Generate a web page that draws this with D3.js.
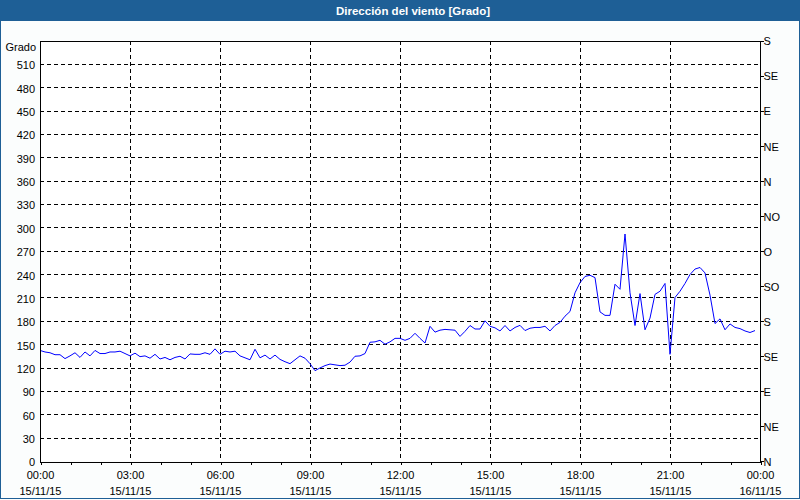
<!DOCTYPE html>
<html>
<head>
<meta charset="utf-8">
<script src="https://cdn.jsdelivr.net/npm/d3@7"></script>
<style>
  html, body { margin: 0; padding: 0; background: #fff; }
  svg { display: block; }
  text { font-family: "Liberation Sans", Arial, sans-serif; font-size: 11px; fill: #000; }
</style>
</head>
<body>
<svg id="chart" width="800" height="500"></svg>
<script>
// ---- DATA ----
const title = "Dirección del viento [Grado]";
const yLabel = "Grado";
const startTime = "2015-11-15T00:00:00";
const endTime = "2015-11-16T00:00:00";
const sampleMinutes = 10;
// wind direction, degrees, one reading every 10 minutes from 00:00
const direction = [
  142, 140, 139, 136.5, 136.5, 131.5, 135, 139, 133, 140,
  135, 142, 138, 138, 140, 140, 141, 138, 135, 138.5,
  134, 135, 132, 137, 131, 133, 130, 133, 134.5, 131,
  137.5, 137, 137, 139, 137, 144, 137, 141, 140, 141,
  135, 132.5, 130, 143.5, 132.5, 136, 131, 136, 130.5, 127.5,
  125, 130, 135, 132, 125, 116, 119.5, 122.5, 124.5, 123.5,
  122.5, 123, 127, 134.5, 135, 138, 152.5, 153, 155, 150,
  153, 157.5, 157.5, 155, 157.5, 164, 157.5, 151.5, 173, 165.5,
  168, 169, 168.5, 168, 160, 166.5, 174, 169.5, 169.5, 180,
  173, 171, 167, 174, 167, 171.5, 174.2, 167.5, 170.5, 171.5,
  171.5, 173, 167, 174, 178, 186, 192, 216, 229, 237,
  238.5, 235.5, 191.5, 187, 187, 227, 220.5, 291.5, 216, 174,
  215, 168.5, 183.5, 214, 218, 228, 137, 210, 218, 228,
  239.5, 246.5, 248.5, 241.5, 213, 176.5, 182.5, 168.5, 176, 171.5,
  170, 167, 165, 167.5
];
const leftTicks = [0, 30, 60, 90, 120, 150, 180, 210, 240, 270, 300, 330, 360, 390, 420, 450, 480, 510];
const rightTickValues = [0, 45, 90, 135, 180, 225, 270, 315, 360, 405, 450, 495, 540];
const rightTickLabels = ["N", "NE", "E", "SE", "S", "SO", "O", "NO", "N", "NE", "E", "SE", "S"];
const xMajorTimes = ["2015-11-15T00:00", "2015-11-15T03:00", "2015-11-15T06:00", "2015-11-15T09:00",
  "2015-11-15T12:00", "2015-11-15T15:00", "2015-11-15T18:00", "2015-11-15T21:00", "2015-11-16T00:00"];
const xTimeLabels = ["00:00", "03:00", "06:00", "09:00", "12:00", "15:00", "18:00", "21:00", "00:00"];
const xDateLabels = ["15/11/15", "15/11/15", "15/11/15", "15/11/15", "15/11/15", "15/11/15", "15/11/15", "15/11/15", "16/11/15"];
const yMax = 540;

// ---- LAYOUT ----
const W = 800, H = 500;
const m = { left: 40, right: 760, top: 40.5, bottom: 461 };
const barColor = "#1e5f96";

const svg = d3.select("#chart");
const parse = d3.isoParse;
const t0 = parse(startTime), t1 = parse(endTime);

const x = d3.scaleTime().domain([t0, t1]).range([m.left, m.right]);
const y = d3.scaleLinear().domain([0, yMax]).range([m.bottom, m.top]);

// background
svg.append("rect").attr("x", 0).attr("y", 0).attr("width", W).attr("height", H).attr("fill", "#fbfdfd");

// title bar
svg.append("rect").attr("x", 0).attr("y", 0).attr("width", W).attr("height", 21).attr("fill", barColor);
svg.append("text").attr("x", 413).attr("y", 14.5).attr("text-anchor", "middle")
  .style("font-weight", "bold").style("fill", "#fff").style("font-size", "11.5px").text(title);

// plot area
svg.append("rect").attr("x", m.left).attr("y", m.top).attr("width", m.right - m.left)
  .attr("height", m.bottom - m.top).attr("fill", "#ffffff");

// horizontal grid
const grid = svg.append("g").attr("shape-rendering", "crispEdges");
grid.selectAll("line.h").data(leftTicks.filter(v => v > 0)).join("line")
  .attr("x1", m.left).attr("x2", m.right)
  .attr("y1", d => Math.round(y(d)) + 0.5).attr("y2", d => Math.round(y(d)) + 0.5)
  .attr("stroke", "#000").attr("stroke-dasharray", "4,3");
// vertical grid
const majors = xMajorTimes.map(parse);
grid.selectAll("line.v").data(majors.slice(1, -1)).join("line")
  .attr("x1", d => Math.round(x(d)) + 0.5).attr("x2", d => Math.round(x(d)) + 0.5)
  .attr("y1", m.top).attr("y2", m.bottom)
  .attr("stroke", "#000").attr("stroke-dasharray", "4,3");

// data line
const pts = direction.map((v, i) => [new Date(t0.getTime() + i * sampleMinutes * 60000), v]);
svg.append("path").datum(pts)
  .attr("fill", "none").attr("stroke", "#0000ff").attr("stroke-width", 1)
  .attr("d", d3.line().x(d => x(d[0])).y(d => y(d[1])));

// frame
svg.append("rect").attr("x", m.left + 0.5).attr("y", Math.round(m.top) + 0.5)
  .attr("width", m.right - m.left).attr("height", Math.round(m.bottom - m.top))
  .attr("fill", "none").attr("stroke", "#000").attr("shape-rendering", "crispEdges");

// left axis labels
const gl = svg.append("g").attr("transform", `translate(${m.left},0)`)
  .call(d3.axisLeft(y).tickValues(leftTicks).tickSize(0).tickPadding(5));
gl.select(".domain").remove();
gl.selectAll("text").style("font-family", "'Liberation Sans', Arial, sans-serif").style("font-size", "11px").attr("dy", "0.45em");
svg.append("text").attr("x", 36).attr("y", 50.5).attr("text-anchor", "end").text(yLabel);

// right axis
const gr = svg.append("g").attr("transform", `translate(${m.right + 0.5},0)`)
  .call(d3.axisRight(y).tickValues(rightTickValues).tickSize(3).tickPadding(0)
    .tickFormat((d, i) => rightTickLabels[i]));
gr.select(".domain").remove();
gr.selectAll("line").attr("stroke", "#000").attr("shape-rendering", "crispEdges");
gr.selectAll("text").style("font-family", "'Liberation Sans', Arial, sans-serif").style("font-size", "11px").attr("dy", "0.4em");

// bottom axis: hourly ticks
const gb = svg.append("g").attr("transform", `translate(0.5,${Math.round(m.bottom) + 0.5})`)
  .call(d3.axisBottom(x).ticks(d3.timeHour.every(1)).tickSize(3).tickFormat(""));
gb.select(".domain").remove();
gb.selectAll("line").attr("stroke", "#000").attr("shape-rendering", "crispEdges");

// bottom labels
const lab = svg.append("g");
lab.selectAll("text.t").data(majors).join("text")
  .attr("x", d => x(d) + 0.5).attr("y", 479).attr("text-anchor", "middle")
  .text((d, i) => xTimeLabels[i]);
lab.selectAll("text.d").data(majors).join("text")
  .attr("x", d => x(d) + 0.5).attr("y", 494.5).attr("text-anchor", "middle")
  .text((d, i) => xDateLabels[i]);

// outer border
svg.append("rect").attr("x", 0.5).attr("y", 0.5).attr("width", W - 1).attr("height", H - 2)
  .attr("fill", "none").attr("stroke", barColor);
</script>
</body>
</html>
